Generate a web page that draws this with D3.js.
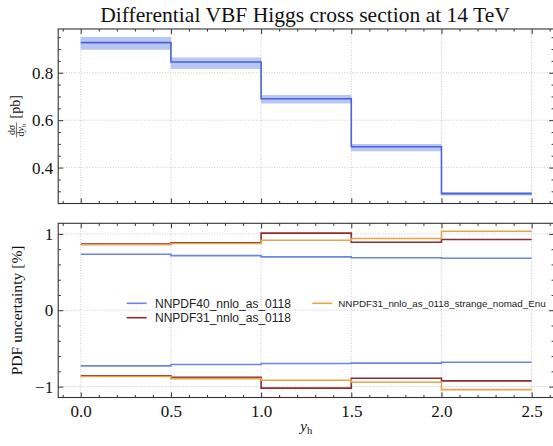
<!DOCTYPE html>
<html>
<head>
<meta charset="utf-8">
<script src="https://cdn.jsdelivr.net/npm/d3@7"></script>
<style>
  html, body { margin: 0; padding: 0; background: #ffffff; }
  svg { display: block; }
</style>
</head>
<body>
<script>
// Rapidity bin edges
const binEdges = [0, 0.5, 1.0, 1.5, 2.0, 2.5];
// dσ/dy_h [pb]: central value with lower / upper band
const xsCentral = [0.927, 0.845, 0.690, 0.488, 0.290];
const xsLow     = [0.897, 0.816, 0.670, 0.469, 0.282];
const xsHigh    = [0.951, 0.864, 0.706, 0.500, 0.297];
// PDF uncertainty [%] per set, upper and lower
const pdfSetNames = ["NNPDF40_nnlo_as_0118", "NNPDF31_nnlo_as_0118", "NNPDF31_nnlo_as_0118_strange_nomad_Enu"];
const nnpdf40Up   = [0.733, 0.716, 0.699, 0.688, 0.681];
const nnpdf40Down = [-0.728, -0.711, -0.698, -0.692, -0.681];
const nnpdf31Up   = [0.866, 0.883, 1.010, 0.891, 0.926];
const nnpdf31Down = [-0.860, -0.877, -1.020, -0.890, -0.925];
const nomadUp     = [0.857, 0.875, 0.917, 0.939, 1.035];
const nomadDown   = [-0.868, -0.895, -0.917, -0.943, -1.039];
// Tick positions
const xTicks = [0, 0.5, 1.0, 1.5, 2.0, 2.5];
const xsTicks = [0.4, 0.6, 0.8];
const pdfTicks = [-1, 0, 1];

const W = 553, H = 446;
const left = 58.2, right = 554.2;
const topPanel = { y0: 29, y1: 203.5 };
const botPanel = { y0: 223.3, y1: 397.5 };

const serif = "'Liberation Serif', 'DejaVu Serif', serif";
const sans = "'Liberation Sans', Arial, sans-serif";
const frameColor = "#333333";
const gridColor = "#bdbdbd";

const svg = d3.select("body").append("svg")
  .attr("width", W).attr("height", H)
  .attr("viewBox", `0 0 ${W} ${H}`);

// padded extent like a 5% autoscale margin
function padded(lo, hi) {
  const m = (hi - lo) * 0.05;
  return [lo - m, hi + m];
}

const xDom = padded(d3.min(binEdges), d3.max(binEdges));
const x = d3.scaleLinear().domain(xDom).range([left, right]);

const yTop = d3.scaleLinear()
  .domain(padded(d3.min(xsLow), d3.max(xsHigh)))
  .range([topPanel.y1, topPanel.y0]);

const allPdf = [].concat(nnpdf40Up, nnpdf40Down, nnpdf31Up, nnpdf31Down, nomadUp, nomadDown);
const yBot = d3.scaleLinear()
  .domain(padded(d3.min(allPdf), d3.max(allPdf)))
  .range([botPanel.y1, botPanel.y0]);

// step points: one per bin edge, the last one repeating the final bin
function stepPoints(vals) {
  return binEdges.map((e, i) => [e, vals[Math.min(i, vals.length - 1)]]);
}

function minorTicks(lo, hi, step, majors) {
  const out = [];
  const n0 = Math.ceil(lo / step - 1e-9), n1 = Math.floor(hi / step + 1e-9);
  for (let k = n0; k <= n1; k++) {
    const v = Math.round(k * step * 1e6) / 1e6;
    if (!majors.some(m => Math.abs(m - v) < 1e-6)) out.push(v);
  }
  return out;
}

const xMinor = minorTicks(xDom[0], xDom[1], 0.1, xTicks);

function drawPanel(panel, y, yMajors, yMinorStep, showXLabels, yFmt) {
  const g = svg.append("g");
  const yDom = y.domain();
  const yMinor = minorTicks(yDom[0], yDom[1], yMinorStep, yMajors);

  // dotted grid at major ticks
  g.append("g").selectAll("line.vx").data(xTicks).join("line")
    .attr("x1", d => x(d)).attr("x2", d => x(d))
    .attr("y1", panel.y0).attr("y2", panel.y1)
    .attr("stroke", gridColor).attr("stroke-width", 0.8)
    .attr("stroke-dasharray", "1,1.6");
  g.append("g").selectAll("line.hy").data(yMajors).join("line")
    .attr("x1", left).attr("x2", right)
    .attr("y1", d => y(d)).attr("y2", d => y(d))
    .attr("stroke", gridColor).attr("stroke-width", 0.8)
    .attr("stroke-dasharray", "1,1.6");

  const style = sel => {
    sel.select(".domain").remove();
    sel.selectAll(".tick line").attr("stroke", frameColor).attr("stroke-width", 1);
    sel.selectAll(".tick text").attr("fill", "#111").attr("font-family", serif).attr("font-size", 17);
  };

  // bottom / top x ticks, pointing inward
  g.append("g").attr("transform", `translate(0,${panel.y1})`)
    .call(d3.axisBottom(x).tickValues(xTicks).tickSize(-5).tickPadding(7)
      .tickFormat(showXLabels ? d3.format(".1f") : ""))
    .call(style);
  g.append("g").attr("transform", `translate(0,${panel.y1})`)
    .call(d3.axisBottom(x).tickValues(xMinor).tickSize(-2.6).tickFormat(""))
    .call(style);
  g.append("g").attr("transform", `translate(0,${panel.y0})`)
    .call(d3.axisTop(x).tickValues(xTicks).tickSize(-5).tickFormat(""))
    .call(style);
  g.append("g").attr("transform", `translate(0,${panel.y0})`)
    .call(d3.axisTop(x).tickValues(xMinor).tickSize(-2.6).tickFormat(""))
    .call(style);

  // left / right y ticks, pointing inward
  g.append("g").attr("transform", `translate(${left},0)`)
    .call(d3.axisLeft(y).tickValues(yMajors).tickSize(-5).tickPadding(5).tickFormat(yFmt))
    .call(style);
  g.append("g").attr("transform", `translate(${left},0)`)
    .call(d3.axisLeft(y).tickValues(yMinor).tickSize(-2.6).tickFormat(""))
    .call(style);
  g.append("g").attr("transform", `translate(${right},0)`)
    .call(d3.axisRight(y).tickValues(yMajors).tickSize(-5).tickFormat(""))
    .call(style);
  g.append("g").attr("transform", `translate(${right},0)`)
    .call(d3.axisRight(y).tickValues(yMinor).tickSize(-2.6).tickFormat(""))
    .call(style);

  return g;
}

// clip paths for the two panels
const defs = svg.append("defs");
defs.append("clipPath").attr("id", "clipTop").append("rect")
  .attr("x", left).attr("y", topPanel.y0).attr("width", right - left).attr("height", topPanel.y1 - topPanel.y0);
defs.append("clipPath").attr("id", "clipBot").append("rect")
  .attr("x", left).attr("y", botPanel.y0).attr("width", right - left).attr("height", botPanel.y1 - botPanel.y0);

drawPanel(topPanel, yTop, xsTicks, 0.05, false, d3.format(".1f"));
drawPanel(botPanel, yBot, pdfTicks, 0.2, true, d3.format("d"));

// ---- top panel: cross section band and central step line
const blue = "#4a63d8";
const topData = svg.append("g").attr("clip-path", "url(#clipTop)");
const band = d3.area()
  .x(d => x(d[0])).y0(d => yTop(d[1])).y1(d => yTop(d[2]))
  .curve(d3.curveStepAfter);
const bandPts = binEdges.map((e, i) => {
  const k = Math.min(i, xsLow.length - 1);
  return [e, xsLow[k], xsHigh[k]];
});
topData.append("path").attr("d", band(bandPts))
  .attr("fill", "#4169e1").attr("fill-opacity", 0.38).attr("stroke", "none");
const stepTop = d3.line().x(d => x(d[0])).y(d => yTop(d[1])).curve(d3.curveStepAfter);
topData.append("path").attr("d", stepTop(stepPoints(xsCentral)))
  .attr("fill", "none").attr("stroke", blue).attr("stroke-width", 1.6);

// ---- bottom panel: PDF uncertainty step lines
const pdfColors = ["#6a86e2", "#8c2c2c", "#e8a44b"];
const pdfSeries = [
  [nnpdf40Up, nnpdf40Down],
  [nnpdf31Up, nnpdf31Down],
  [nomadUp, nomadDown]
];
const botData = svg.append("g").attr("clip-path", "url(#clipBot)");
const stepBot = d3.line().x(d => x(d[0])).y(d => yBot(d[1])).curve(d3.curveStepAfter);
pdfSeries.forEach((pair, i) => {
  pair.forEach(vals => {
    botData.append("path").attr("d", stepBot(stepPoints(vals)))
      .attr("fill", "none").attr("stroke", pdfColors[i]).attr("stroke-width", 1.6);
  });
});

// frames
[topPanel, botPanel].forEach(p => {
  svg.append("rect").attr("x", left).attr("y", p.y0)
    .attr("width", right - left).attr("height", p.y1 - p.y0)
    .attr("fill", "none").attr("stroke", frameColor).attr("stroke-width", 1.1);
});

// ---- legend
const legendItems = [
  { name: pdfSetNames[0], color: pdfColors[0], x: 126.7, y: 303.3, size: 12 },
  { name: pdfSetNames[1], color: pdfColors[1], x: 126.7, y: 317.7, size: 12 },
  { name: pdfSetNames[2], color: pdfColors[2], x: 312.3, y: 303.3, size: 9.8 }
];
const leg = svg.append("g");
legendItems.forEach(it => {
  leg.append("line").attr("x1", it.x).attr("x2", it.x + 20)
    .attr("y1", it.y).attr("y2", it.y)
    .attr("stroke", it.color).attr("stroke-width", 1.6);
  leg.append("text").attr("x", it.x + (it.size > 11 ? 28.3 : 26))
    .attr("y", it.y + it.size * 0.36)
    .attr("font-family", sans).attr("font-size", it.size).attr("fill", "#222")
    .text(it.name);
});

// ---- title
const axCenter = (left + right) / 2;
const title = svg.append("text")
  .attr("x", 305.1).attr("y", 22).attr("text-anchor", "middle")
  .attr("font-family", serif).attr("font-size", 20).attr("fill", "#111")
  .text("Differential VBF Higgs cross section at 14 TeV");
{
  const w = title.node().getComputedTextLength();
  title.attr("font-size", 20 * 410 / w);
}

// ---- x label: y_h
const xl = svg.append("text")
  .attr("x", axCenter).attr("y", 431).attr("text-anchor", "middle")
  .attr("font-family", serif).attr("fill", "#111");
xl.append("tspan").attr("font-style", "italic").attr("font-size", 15).text("y");
xl.append("tspan").attr("font-size", 10.5).attr("dy", 2.5).text("h");

// ---- bottom y label
const ylb = svg.append("text")
  .attr("transform", `translate(21.5,${(botPanel.y0 + botPanel.y1) / 2}) rotate(-90)`)
  .attr("text-anchor", "middle")
  .attr("font-family", serif).attr("font-size", 15).attr("fill", "#111")
  .text("PDF uncertainty [%]");
{
  const w = ylb.node().getComputedTextLength();
  ylb.attr("font-size", 15 * 130 / w);
}

// ---- top y label: dσ/dy_h [pb] as a small fraction
const ylt = svg.append("g");
const inner = ylt.append("g");
const num = inner.append("text").attr("font-family", serif).attr("font-size", 10).attr("fill", "#111")
  .attr("text-anchor", "middle").attr("y", -2.6);
num.append("tspan").text("d");
num.append("tspan").attr("font-style", "italic").text("σ");
const den = inner.append("text").attr("font-family", serif).attr("font-size", 10).attr("fill", "#111")
  .attr("text-anchor", "middle").attr("y", 7.2);
den.append("tspan").text("d");
den.append("tspan").attr("font-style", "italic").text("y");
den.append("tspan").attr("font-size", 7).attr("dy", 1.6).text("h");
const fracW = Math.max(num.node().getComputedTextLength(), den.node().getComputedTextLength()) + 2;
num.attr("x", fracW / 2);
den.attr("x", fracW / 2);
inner.append("line").attr("x1", 0).attr("x2", fracW).attr("y1", -0.6).attr("y2", -0.6)
  .attr("stroke", "#111").attr("stroke-width", 0.6);
const unit = inner.append("text").attr("font-family", serif).attr("font-size", 14).attr("fill", "#111")
  .attr("x", fracW + 4).attr("y", 3.2).text("[pb]");
{
  const totalW = fracW + 4 + unit.node().getComputedTextLength();
  inner.attr("transform", `translate(${-totalW / 2},0)`);
}
ylt.attr("transform", `translate(17.2,${(topPanel.y0 + topPanel.y1) / 2}) rotate(-90)`);
</script>
</body>
</html>
